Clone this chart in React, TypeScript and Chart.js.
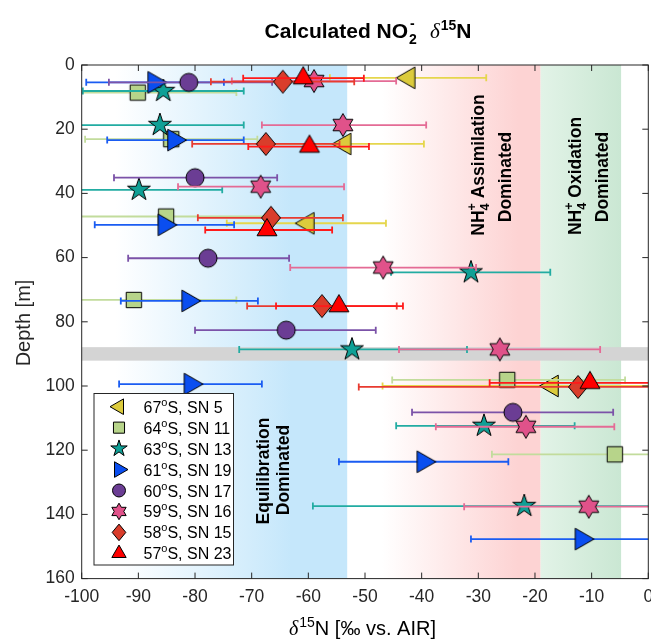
import React, { useEffect, useRef } from 'react';
import { Chart, registerables } from 'chart.js';

Chart.register(...registerables);

// ---------- data ----------
const sn5Depth = [4.0, 24.6, 49.3, 100.0];
const sn5Value = [-42.3, -53.6, -60.1, -17.0];
const sn5Low = [-56.2, -67.6, -74.4, -46.9];
const sn5High = [-28.6, -39.6, -46.3, 12.9];

const sn11Depth = [8.6, 23.1, 47.2, 73.2, 98.1, 121.3];
const sn11Value = [-90.1, -84.2, -85.1, -90.8, -24.9, -5.9];
const sn11Low = [-107.5, -99.4, -102.6, -108.9, -45.2, -27.6];
const sn11High = [-72.7, -69.0, -67.6, -72.7, -4.1, 15.8];

const sn13Depth = [8.1, 18.7, 38.9, 64.6, 88.6, 112.4, 137.4];
const sn13Value = [-85.6, -86.2, -89.9, -31.3, -52.3, -29.0, -21.9];
const sn13Low = [-99.8, -101.0, -104.6, -45.4, -72.2, -44.5, -59.2];
const sn13High = [-71.4, -71.4, -75.2, -17.3, -32.0, -13.0, 15.4];

const sn19Depth = [5.4, 23.4, 49.8, 73.5, 99.4, 123.6, 147.7];
const sn19Value = [-87.2, -83.7, -85.4, -81.2, -80.8, -39.7, -11.8];
const sn19Low = [-99.2, -95.5, -97.7, -93.1, -93.4, -54.6, -31.3];
const sn19High = [-74.9, -71.4, -73.1, -68.9, -68.2, -24.7, 8.7];

const sn17Depth = [5.4, 35.1, 60.2, 82.6, 108.2];
const sn17Value = [-81.1, -80.0, -77.7, -63.9, -23.9];
const sn17Low = [-95.2, -94.3, -91.8, -80.0, -41.7];
const sn17High = [-66.4, -65.5, -63.4, -48.1, -6.2];

const sn16Depth = [5.0, 18.7, 37.9, 63.1, 88.6, 112.7, 137.6];
const sn16Value = [-59.0, -53.9, -68.4, -46.8, -26.2, -21.6, -10.5];
const sn16Low = [-73.5, -68.2, -83.0, -63.2, -44.0, -37.5, -32.5];
const sn16High = [-44.5, -39.2, -53.7, -30.4, -8.5, -6.0, 11.5];

const sn15Depth = [5.2, 24.6, 47.6, 75.1, 100.3];
const sn15Value = [-64.5, -67.5, -66.6, -57.6, -12.4];
const sn15Low = [-77.2, -80.5, -79.5, -70.8, -51.1];
const sn15High = [-51.9, -54.5, -53.9, -44.4, 26.3];

const sn23Depth = [4.1, 25.4, 51.4, 75.1, 99.0];
const sn23Value = [-60.9, -59.8, -67.3, -54.6, -10.3];
const sn23Low = [-71.5, -70.6, -78.2, -65.7, -28.0];
const sn23High = [-50.2, -49.3, -55.8, -43.3, 8.0];

const seriesLatitude = ['67', '64', '63', '61', '60', '59', '58', '57'];
const seriesStation = ['SN 5', 'SN 11', 'SN 13', 'SN 19', 'SN 17', 'SN 16', 'SN 15', 'SN 23'];

const xTickValues = [-100, -90, -80, -70, -60, -50, -40, -30, -20, -10, 0];
const yTickValues = [0, 20, 40, 60, 80, 100, 120, 140, 160];

// regime boundaries (‰) and excluded depth band (m)
const equilibrationEnd = -53.1;
const assimilationEnd = -19.0;
const oxidationEnd = -4.8;
const grayBandTop = 87.9;
const grayBandBottom = 92.1;

// ---------- styles ----------
type MarkerKind =
  | 'triangleLeft'
  | 'square'
  | 'pentagram'
  | 'triangleRight'
  | 'circle'
  | 'hexagram'
  | 'diamond'
  | 'triangleUp';

const seriesData = [
  { depth: sn5Depth, value: sn5Value, low: sn5Low, high: sn5High },
  { depth: sn11Depth, value: sn11Value, low: sn11Low, high: sn11High },
  { depth: sn13Depth, value: sn13Value, low: sn13Low, high: sn13High },
  { depth: sn19Depth, value: sn19Value, low: sn19Low, high: sn19High },
  { depth: sn17Depth, value: sn17Value, low: sn17Low, high: sn17High },
  { depth: sn16Depth, value: sn16Value, low: sn16Low, high: sn16High },
  { depth: sn15Depth, value: sn15Value, low: sn15Low, high: sn15High },
  { depth: sn23Depth, value: sn23Value, low: sn23Low, high: sn23High },
];

const seriesStyle: { marker: MarkerKind; fill: string; bar: string }[] = [
  { marker: 'triangleLeft', fill: '#dccb3c', bar: '#e5d64c' },
  { marker: 'square', fill: '#b7d48a', bar: '#c2dc9c' },
  { marker: 'pentagram', fill: '#0fa096', bar: '#22aca2' },
  { marker: 'triangleRight', fill: '#0a4ef0', bar: '#1a5cf2' },
  { marker: 'circle', fill: '#6b3d94', bar: '#7b52a8' },
  { marker: 'hexagram', fill: '#e0528a', bar: '#e46b95' },
  { marker: 'diamond', fill: '#d93d2b', bar: '#e83b30' },
  { marker: 'triangleUp', fill: '#ff0000', bar: '#ff1a1a' },
];

const SANS = '"Liberation Sans", Arial, Helvetica, sans-serif';
const SERIF = '"Liberation Serif", "Times New Roman", serif';
const AXIS_COLOR = '#262626';

function markerPath(ctx: CanvasRenderingContext2D, kind: MarkerKind, x: number, y: number, s: number) {
  ctx.beginPath();
  switch (kind) {
    case 'triangleLeft': {
      const r = 12.5 * s;
      ctx.moveTo(x - r, y);
      ctx.lineTo(x + 0.5 * r, y - 0.866 * r);
      ctx.lineTo(x + 0.5 * r, y + 0.866 * r);
      ctx.closePath();
      break;
    }
    case 'triangleRight': {
      const r = 12.5 * s;
      ctx.moveTo(x + r, y);
      ctx.lineTo(x - 0.5 * r, y - 0.866 * r);
      ctx.lineTo(x - 0.5 * r, y + 0.866 * r);
      ctx.closePath();
      break;
    }
    case 'triangleUp': {
      const r = 11.5 * s;
      ctx.moveTo(x, y - r);
      ctx.lineTo(x + 0.866 * r, y + 0.5 * r);
      ctx.lineTo(x - 0.866 * r, y + 0.5 * r);
      ctx.closePath();
      break;
    }
    case 'square': {
      const h = 7.7 * s;
      ctx.rect(x - h, y - h, 2 * h, 2 * h);
      break;
    }
    case 'circle': {
      ctx.arc(x, y, 9 * s, 0, Math.PI * 2);
      break;
    }
    case 'diamond': {
      const hw = 9.5 * s;
      const hh = 11.5 * s;
      ctx.moveTo(x, y - hh);
      ctx.lineTo(x + hw, y);
      ctx.lineTo(x, y + hh);
      ctx.lineTo(x - hw, y);
      ctx.closePath();
      break;
    }
    case 'pentagram':
    case 'hexagram': {
      const n = kind === 'pentagram' ? 5 : 6;
      const R = (kind === 'pentagram' ? 12 : 11.5) * s;
      const ri = kind === 'pentagram' ? R * 0.382 : R * 0.577;
      for (let i = 0; i < n * 2; i++) {
        const ang = -Math.PI / 2 + (i * Math.PI) / n;
        const rr = i % 2 === 0 ? R : ri;
        const px = x + Math.cos(ang) * rr;
        const py = y + Math.sin(ang) * rr;
        if (i === 0) ctx.moveTo(px, py);
        else ctx.lineTo(px, py);
      }
      ctx.closePath();
      break;
    }
  }
}

function drawMarker(ctx: CanvasRenderingContext2D, kind: MarkerKind, x: number, y: number, s: number, fill: string) {
  markerPath(ctx, kind, x, y, s);
  ctx.fillStyle = fill;
  ctx.fill();
  ctx.lineWidth = 1;
  ctx.strokeStyle = '#000000';
  ctx.lineJoin = 'miter';
  ctx.stroke();
}

function makeMarkerCanvas(kind: MarkerKind, fill: string): HTMLCanvasElement {
  const c = document.createElement('canvas');
  c.width = 34;
  c.height = 34;
  const ctx = c.getContext('2d')!;
  drawMarker(ctx, kind, 17, 17, 1, fill);
  return c;
}

// ---------- plugins ----------
const backgroundPlugin = {
  id: 'regimeBackground',
  beforeDatasetsDraw(chart: any) {
    const { ctx, chartArea: a } = chart;
    const xs = chart.scales.x;
    const ys = chart.scales.y;
    const X = (v: number) => xs.getPixelForValue(v);
    ctx.save();
    ctx.beginPath();
    ctx.rect(a.left, a.top, a.right - a.left, a.bottom - a.top);
    ctx.clip();
    const h = a.bottom - a.top;

    // equilibration band (blue)
    let x0 = X(-100), x1 = X(equilibrationEnd);
    let g = ctx.createLinearGradient(x0, 0, x1, 0);
    const f = (v: number) => (v + 100) / (equilibrationEnd + 100);
    g.addColorStop(0, '#ffffff');
    g.addColorStop(f(-94), '#ffffff');
    g.addColorStop(f(-63), '#c5e7fb');
    g.addColorStop(1, '#c5e7fb');
    ctx.fillStyle = g;
    ctx.fillRect(x0, a.top, x1 - x0, h);

    // assimilation band (pink)
    x0 = X(equilibrationEnd);
    x1 = X(assimilationEnd);
    g = ctx.createLinearGradient(x0, 0, x1, 0);
    const f2 = (v: number) => (v - equilibrationEnd) / (assimilationEnd - equilibrationEnd);
    g.addColorStop(0, '#ffffff');
    g.addColorStop(f2(-47), '#ffffff');
    g.addColorStop(f2(-23), '#fdd3d3');
    g.addColorStop(1, '#fdd3d3');
    ctx.fillStyle = g;
    ctx.fillRect(x0, a.top, x1 - x0, h);

    // oxidation band (green)
    x0 = X(assimilationEnd);
    x1 = X(oxidationEnd);
    g = ctx.createLinearGradient(x0, 0, x1, 0);
    g.addColorStop(0, '#e2f3e7');
    g.addColorStop(1, '#cae7d3');
    ctx.fillStyle = g;
    ctx.fillRect(x0, a.top, x1 - x0, h);

    // excluded depth band
    const y0 = ys.getPixelForValue(grayBandTop);
    const y1 = ys.getPixelForValue(grayBandBottom);
    ctx.fillStyle = '#d4d4d4';
    ctx.fillRect(a.left, y0, a.right - a.left, y1 - y0);
    ctx.restore();

    // regime labels (rotated)
    const bold = (px: number) => `bold ${px}px ${SANS}`;
    const fs = 17.5;
    const rotLine = (
      cx: number,
      cy: number,
      parts: { t: string; size: number; dy: number; stack?: string }[]
    ) => {
      ctx.save();
      ctx.translate(cx, cy);
      ctx.rotate(-Math.PI / 2);
      ctx.fillStyle = '#000000';
      ctx.textBaseline = 'alphabetic';
      ctx.textAlign = 'left';
      let total = 0;
      const widths: number[] = [];
      for (const p of parts) {
        ctx.font = bold(p.size);
        let w = ctx.measureText(p.t).width;
        if (p.stack) w = Math.max(w, ctx.measureText(p.stack).width);
        widths.push(w);
        total += w;
      }
      let x = -total / 2;
      const base = 0.36 * fs;
      parts.forEach((p, i) => {
        ctx.font = bold(p.size);
        ctx.fillText(p.t, x, base + p.dy);
        if (p.stack) ctx.fillText(p.stack, x, base + 5);
        x += widths[i];
      });
      ctx.restore();
    };
    rotLine(263, 471, [{ t: 'Equilibration', size: fs, dy: 0 }]);
    rotLine(283, 470, [{ t: 'Dominated', size: fs, dy: 0 }]);
    rotLine(478, 165, [
      { t: 'NH', size: fs, dy: 0 },
      { t: '+', size: 12.5, dy: -8, stack: '4' },
      { t: ' Assimilation', size: fs, dy: 0 },
    ]);
    rotLine(505, 177, [{ t: 'Dominated', size: fs, dy: 0 }]);
    rotLine(575, 176, [
      { t: 'NH', size: fs, dy: 0 },
      { t: '+', size: 12.5, dy: -8, stack: '4' },
      { t: ' Oxidation', size: fs, dy: 0 },
    ]);
    rotLine(602, 177, [{ t: 'Dominated', size: fs, dy: 0 }]);
  },
};

const errorBarPlugin = {
  id: 'errorBars',
  beforeDatasetDraw(chart: any, args: any) {
    const s = seriesData[args.index];
    const st = seriesStyle[args.index];
    if (!s) return;
    const { ctx, chartArea: a } = chart;
    const xs = chart.scales.x;
    const ys = chart.scales.y;
    ctx.save();
    ctx.beginPath();
    ctx.rect(a.left, a.top, a.right - a.left, a.bottom - a.top);
    ctx.clip();
    ctx.strokeStyle = st.bar;
    ctx.lineWidth = 1.8;
    const cap = 3.5;
    for (let i = 0; i < s.depth.length; i++) {
      const y = ys.getPixelForValue(s.depth[i]);
      const xl = xs.getPixelForValue(s.low[i]);
      const xh = xs.getPixelForValue(s.high[i]);
      ctx.beginPath();
      ctx.moveTo(xl, y);
      ctx.lineTo(xh, y);
      ctx.moveTo(xl, y - cap);
      ctx.lineTo(xl, y + cap);
      ctx.moveTo(xh, y - cap);
      ctx.lineTo(xh, y + cap);
      ctx.stroke();
    }
    ctx.restore();
  },
};

const overlayPlugin = {
  id: 'overlay',
  afterDraw(chart: any) {
    const { ctx, chartArea: a } = chart;
    const xs = chart.scales.x;
    const ys = chart.scales.y;

    // axes box + inner ticks
    ctx.save();
    ctx.strokeStyle = AXIS_COLOR;
    ctx.lineWidth = 1;
    ctx.strokeRect(a.left, a.top, a.right - a.left, a.bottom - a.top);
    const tl = 6;
    ctx.beginPath();
    for (const v of xTickValues) {
      const x = xs.getPixelForValue(v);
      ctx.moveTo(x, a.bottom);
      ctx.lineTo(x, a.bottom - tl);
      ctx.moveTo(x, a.top);
      ctx.lineTo(x, a.top + tl);
    }
    for (const v of yTickValues) {
      const y = ys.getPixelForValue(v);
      ctx.moveTo(a.left, y);
      ctx.lineTo(a.left + tl, y);
      ctx.moveTo(a.right, y);
      ctx.lineTo(a.right - tl, y);
    }
    ctx.stroke();
    ctx.restore();

    // title
    ctx.save();
    ctx.fillStyle = '#000000';
    ctx.textBaseline = 'alphabetic';
    ctx.textAlign = 'left';
    const tBig = `bold 21px ${SANS}`;
    const tSmall = `bold 14px ${SANS}`;
    const tDelta = `italic 21px ${SERIF}`;
    ctx.font = tBig;
    const w1 = ctx.measureText('Calculated NO').width;
    const wN = ctx.measureText('N').width;
    ctx.font = tSmall;
    const wStack = Math.max(ctx.measureText('-').width, ctx.measureText('2').width);
    const w15 = ctx.measureText('15').width;
    ctx.font = tDelta;
    const wD = ctx.measureText('δ').width;
    const gap = 13;
    const total = w1 + wStack + gap + wD + w15 + wN;
    let tx = 367 - total / 2;
    const tb = 38;
    ctx.font = tBig;
    ctx.fillText('Calculated NO', tx, tb);
    tx += w1 + 1;
    ctx.font = tSmall;
    ctx.fillText('-', tx + 1, tb - 10);
    ctx.fillText('2', tx, tb + 6);
    tx += wStack + gap;
    ctx.font = tDelta;
    ctx.fillText('δ', tx, tb);
    tx += wD + 1;
    ctx.font = tSmall;
    ctx.fillText('15', tx, tb - 8);
    tx += w15;
    ctx.font = tBig;
    ctx.fillText('N', tx, tb);
    ctx.restore();

    // x axis label
    ctx.save();
    ctx.fillStyle = '#000000';
    ctx.textBaseline = 'alphabetic';
    ctx.textAlign = 'left';
    const lBig = `20px ${SANS}`;
    const lSmall = `14px ${SANS}`;
    const lDelta = `italic 20px ${SERIF}`;
    ctx.font = lDelta;
    const xd = ctx.measureText('δ').width;
    ctx.font = lSmall;
    const x15 = ctx.measureText('15').width;
    ctx.font = lBig;
    const xr = ctx.measureText('N [‰ vs. AIR]').width;
    let lx = 362 - (xd + x15 + xr) / 2;
    const lb = 635;
    ctx.font = lDelta;
    ctx.fillText('δ', lx, lb);
    lx += xd + 1;
    ctx.font = lSmall;
    ctx.fillText('15', lx, lb - 8);
    lx += x15;
    ctx.font = lBig;
    ctx.fillText('N [‰ vs. AIR]', lx, lb);
    ctx.restore();

    // y axis label
    ctx.save();
    ctx.translate(24, 323);
    ctx.rotate(-Math.PI / 2);
    ctx.fillStyle = '#262626';
    ctx.font = `20px ${SANS}`;
    ctx.textAlign = 'center';
    ctx.textBaseline = 'middle';
    ctx.fillText('Depth [m]', 0, 0);
    ctx.restore();

    // legend
    ctx.save();
    const lgX = 94, lgY = 393.5, lgW = 139.5, lgH = 171.5;
    ctx.fillStyle = '#ffffff';
    ctx.fillRect(lgX, lgY, lgW, lgH);
    ctx.strokeStyle = AXIS_COLOR;
    ctx.lineWidth = 1;
    ctx.strokeRect(lgX, lgY, lgW, lgH);
    const rowH = 20.95;
    for (let i = 0; i < seriesStyle.length; i++) {
      const cy = 406.7 + i * rowH;
      drawMarker(ctx, seriesStyle[i].marker, 119, cy, 0.72, seriesStyle[i].fill);
      ctx.fillStyle = '#000000';
      ctx.textBaseline = 'alphabetic';
      ctx.textAlign = 'left';
      const base = cy + 6;
      let x = 143.5;
      ctx.font = `16px ${SANS}`;
      ctx.fillText(seriesLatitude[i], x, base);
      x += ctx.measureText(seriesLatitude[i]).width;
      ctx.font = `11px ${SANS}`;
      ctx.fillText('o', x, base - 7);
      x += ctx.measureText('o').width;
      ctx.font = `16px ${SANS}`;
      ctx.fillText('S, ' + seriesStation[i], x, base);
    }
    ctx.restore();
  },
};

export default function App() {
  const canvasRef = useRef<HTMLCanvasElement | null>(null);

  useEffect(() => {
    if (!canvasRef.current) return;
    const datasets = seriesData.map((s, i) => ({
      label: `${seriesLatitude[i]}°S, ${seriesStation[i]}`,
      data: s.depth.map((d, j) => ({ x: s.value[j], y: d })),
      pointStyle: makeMarkerCanvas(seriesStyle[i].marker, seriesStyle[i].fill) as any,
      pointRadius: 10,
      pointHoverRadius: 10,
      showLine: false,
      clip: false as any,
      order: seriesData.length - i,
    }));

    const chart = new Chart(canvasRef.current, {
      type: 'scatter',
      data: { datasets },
      options: {
        responsive: false,
        animation: false,
        devicePixelRatio: 1,
        layout: { autoPadding: false, padding: { top: 65, right: 2.7, left: 0, bottom: 0 } },
        plugins: {
          legend: { display: false },
          title: { display: false },
          tooltip: { enabled: false },
        },
        events: [],
        scales: {
          x: {
            type: 'linear',
            min: -100,
            max: 0,
            ticks: {
              stepSize: 10,
              color: AXIS_COLOR,
              font: { family: SANS, size: 17.5 },
              padding: 8,
              maxRotation: 0,
              autoSkip: false,
            },
            grid: { display: false, drawTicks: false },
            border: { display: false },
            afterFit: (scale: any) => {
              scale.height = 640 - 578.6;
              scale.paddingLeft = 0;
              scale.paddingRight = 0;
            },
          },
          y: {
            type: 'linear',
            min: 0,
            max: 160,
            reverse: true,
            ticks: {
              stepSize: 20,
              color: AXIS_COLOR,
              font: { family: SANS, size: 17.5 },
              padding: 7,
              autoSkip: false,
            },
            grid: { display: false, drawTicks: false },
            border: { display: false },
            afterFit: (scale: any) => {
              scale.width = 81.7;
              scale.paddingTop = 0;
              scale.paddingBottom = 0;
            },
          },
        },
      },
      plugins: [backgroundPlugin, errorBarPlugin, overlayPlugin],
    });
    return () => chart.destroy();
  }, []);

  return (
    <div style={{ position: 'absolute', left: 0, top: 0, width: 651, height: 640, background: '#ffffff' }}>
      <canvas ref={canvasRef} width={651} height={640} style={{ display: 'block', width: 651, height: 640 }} />
    </div>
  );
}
